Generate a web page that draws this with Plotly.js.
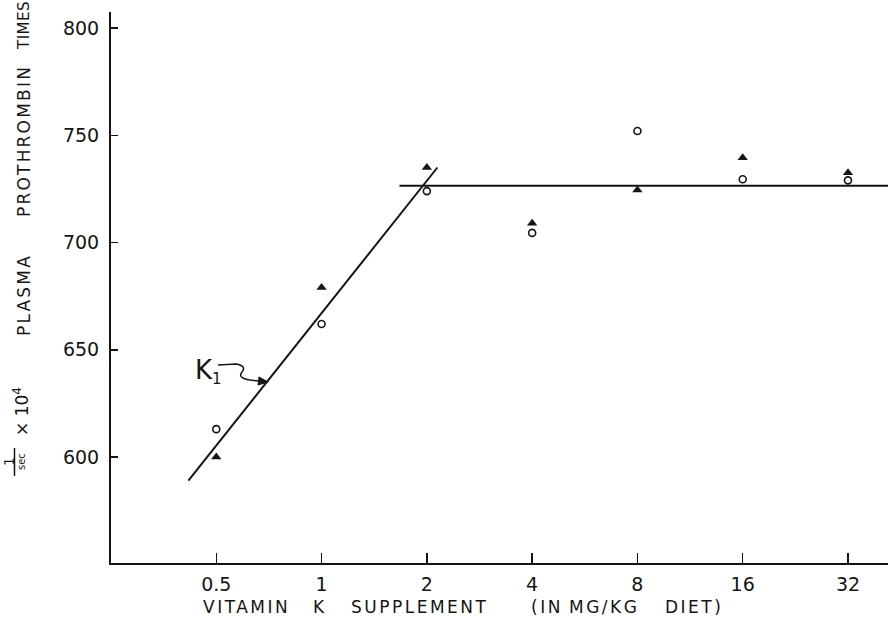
<!DOCTYPE html>
<html>
<head>
<meta charset="utf-8">
<script src="https://cdn.plot.ly/plotly-3.0.1.min.js"></script>
<style>html,body{margin:0;padding:0;background:#fff;}</style>
</head>
<body>
<div id="chart" style="width:891px;height:621px;"></div>
<script>
// Vitamin K supplement levels (mg/kg diet)
var doses = [0.5, 1, 2, 4, 8, 16, 32];
var tickLabels = ["0.5", "1", "2", "4", "8", "16", "32"];
// open circles
var circleValues = [613, 662, 724, 704.5, 752, 729.5, 729];
// filled triangles
var triangleValues = [600, 679, 735, 709, 724.5, 739.5, 732.5];
// fitted lines
var slopeX = [0.416, 2.144];
var slopeY = [589, 735];
var plateauX = [1.67, 42];
var plateauY = [726.5, 726.5];
var yTicks = [600, 650, 700, 750, 800];

var ink = '#151515';
var fontFam = 'DejaVu Sans, Liberation Sans, sans-serif';

var traces = [
  {x: slopeX, y: slopeY, mode: 'lines', line: {color: ink, width: 2}, hoverinfo: 'skip'},
  {x: plateauX, y: plateauY, mode: 'lines', line: {color: ink, width: 2}, hoverinfo: 'skip'},
  {x: doses, y: circleValues, mode: 'markers',
   marker: {symbol: 'circle-open', size: 7, color: ink, line: {width: 1.6, color: ink}}},
  {x: doses, y: triangleValues, mode: 'markers',
   marker: {symbol: 'triangle-up', size: 9, color: ink}}
];

function ls(txt, sp) { return '<span style="letter-spacing:' + sp + 'px">' + txt + '</span>'; }

var L = 111, R = 888, T = 12, B = 563;
function px(xp) { return (xp - L) / (R - L); }
function py(yp) { return (B - yp) / (B - T); }

var titleFont = {family: fontFam, size: 17, color: ink};
var yTitleFont = {family: fontFam, size: 17, color: ink};

var xWords = [['VITAMIN', 246], ['K', 320], ['SUPPLEMENT', 419], ['(IN', 547], ['MG/KG', 604], ['DIET)', 694]];
var annotations = [];
xWords.forEach(function (w) {
  annotations.push({xref: 'paper', yref: 'paper', x: px(w[1]), y: py(607), xanchor: 'center', yanchor: 'middle',
    showarrow: false, text: ls(w[0], 2.5), font: titleFont});
});
var yWords = [['TIMES', 26, 0.5, 15], ['PROTHROMBIN', 141, 2.2, 17], ['PLASMA', 295, 2.2, 17]];
yWords.forEach(function (w) {
  annotations.push({xref: 'paper', yref: 'paper', x: px(24), y: py(w[1]), xanchor: 'center', yanchor: 'middle',
    showarrow: false, textangle: -90, text: ls(w[0], w[2]), font: {family: fontFam, size: w[3], color: ink}});
});
annotations.push({xref: 'paper', yref: 'paper', x: px(21), y: py(412), xanchor: 'center', yanchor: 'middle',
  showarrow: false, textangle: -90, text: '\u00d7 10<sup>4</sup>', font: yTitleFont});
annotations.push({xref: 'paper', yref: 'paper', x: px(9), y: py(462), xanchor: 'center', yanchor: 'middle',
  showarrow: false, textangle: -90, text: '1', font: {family: fontFam, size: 14, color: ink}});
annotations.push({xref: 'paper', yref: 'paper', x: px(21), y: py(462), xanchor: 'center', yanchor: 'middle',
  showarrow: false, textangle: -90, text: 'sec', font: {family: fontFam, size: 10, color: ink}});
// K1 label
annotations.push({xref: 'paper', yref: 'paper', x: px(193), y: py(371), xanchor: 'left', yanchor: 'middle',
  showarrow: false, text: 'K<sub><span style="font-size:15px">1</span></sub>', font: {family: fontFam, size: 26, color: ink}});

function P(xp, yp) { return px(xp).toFixed(4) + ',' + py(yp).toFixed(4); }
var squiggle = 'M' + P(218, 365) + ' L' + P(236, 364) + ' Q' + P(247, 366) + ' ' + P(242, 372) +
  ' Q' + P(237, 378) + ' ' + P(250, 380) + ' L' + P(268, 382);
var arrowHead = 'M' + P(268, 382) + ' L' + P(259, 377) + ' L' + P(258, 385) + ' Z';

var layout = {
  width: 891, height: 621,
  margin: {l: L, r: 891 - R, t: T, b: 621 - B},
  paper_bgcolor: '#fff', plot_bgcolor: '#fff',
  showlegend: false,
  xaxis: {
    type: 'log', range: [Math.log10(0.25), Math.log10(Math.pow(2, 5.38))],
    tickvals: doses, ticktext: tickLabels, ticks: 'inside', ticklen: 10, tickwidth: 1.5, tickcolor: ink,
    showline: true, linecolor: ink, linewidth: 2, showgrid: false, zeroline: false,
    ticklabelstandoff: 3,
    tickfont: {family: fontFam, size: 19, color: ink}
  },
  yaxis: {
    range: [550.6, 807.5], tickvals: yTicks, ticks: 'inside', ticklen: 7, tickwidth: 1.5, tickcolor: ink,
    showline: true, linecolor: ink, linewidth: 2, showgrid: false, zeroline: false,
    ticklabelstandoff: 6,
    tickfont: {family: fontFam, size: 19, color: ink}
  },
  annotations: annotations,
  shapes: [
    {type: 'path', xref: 'paper', yref: 'paper', path: squiggle, line: {color: ink, width: 1.5}},
    {type: 'path', xref: 'paper', yref: 'paper', path: arrowHead, fillcolor: ink, line: {color: ink, width: 1}},
    {type: 'line', xref: 'paper', yref: 'paper', x0: px(14.5), x1: px(14.5), y0: py(448), y1: py(476),
     line: {color: ink, width: 1.5}}
  ]
};

Plotly.newPlot('chart', traces, layout, {displayModeBar: false, staticPlot: true});
</script>
</body>
</html>
